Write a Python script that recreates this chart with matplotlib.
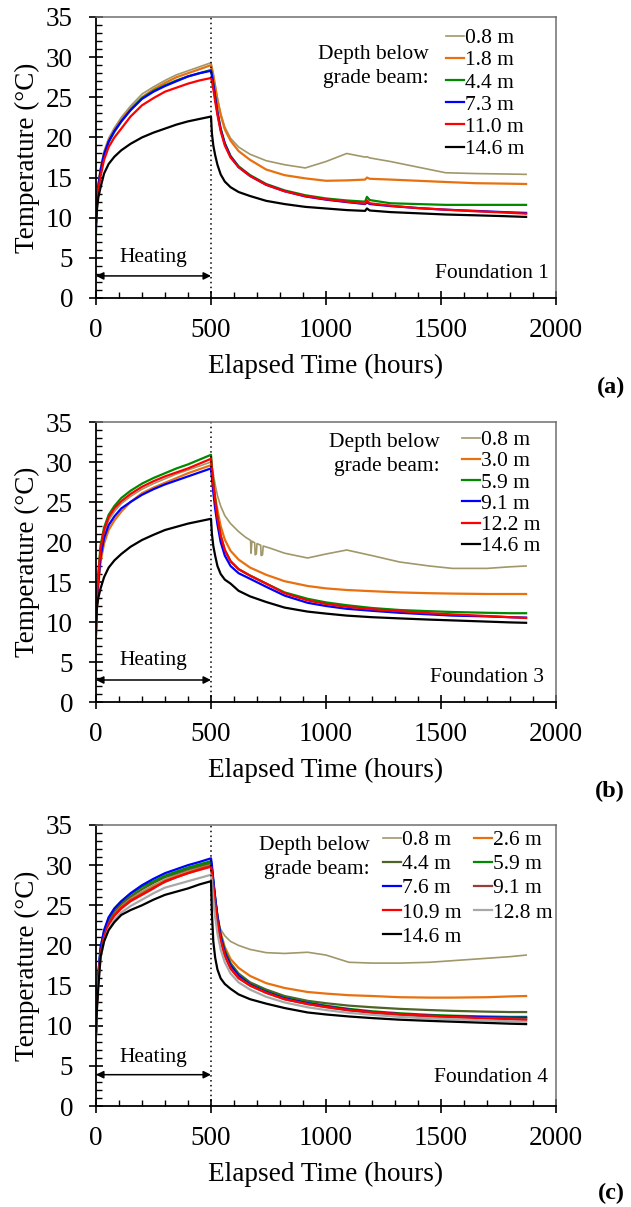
import matplotlib
matplotlib.use("Agg")
import matplotlib.pyplot as plt
from matplotlib.ticker import MultipleLocator

plt.rcParams["font.family"] = ["Liberation Serif", "DejaVu Serif"]

# ---------------------------------------------------------------- data
# Foundation 1
hours_a = [0, 4, 10, 20, 35, 55, 80, 110, 150, 200, 250, 300, 350, 400, 450, 500,
           504, 510, 518, 528, 542, 560, 585, 620, 670, 740, 820, 910, 1000, 1090,
           1170, 1178, 1190, 1280, 1400, 1520, 1650, 1770, 1870]
a_08 = [9.8, 12.5, 14.3, 16.3, 18.3, 19.9, 21.2, 22.5, 23.9, 25.4, 26.3, 27.1, 27.8, 28.3, 28.8, 29.3,
        28.8, 28.0, 26.6, 24.9, 23.0, 21.3, 19.9, 18.8, 17.9, 17.1, 16.6, 16.2, 17.0, 18.0,
        17.55, 17.6, 17.45, 17.0, 16.3, 15.6, 15.5, 15.45, 15.4]
a_18 = [9.5, 12.2, 14.0, 16.0, 18.0, 19.6, 20.9, 22.2, 23.6, 25.0, 26.0, 26.8, 27.5, 28.0, 28.5, 29.0,
        28.4, 27.6, 26.3, 24.7, 22.8, 21.0, 19.6, 18.3, 17.2, 16.0, 15.3, 14.9, 14.6, 14.65,
        14.75, 15.0, 14.85, 14.75, 14.6, 14.45, 14.3, 14.25, 14.2]
a_44 = [8.0, 11.5, 13.7, 15.8, 17.8, 19.4, 20.7, 22.0, 23.4, 24.9, 25.8, 26.5, 27.1, 27.6, 28.0, 28.4,
        27.8, 26.7, 25.1, 23.2, 21.1, 19.3, 17.7, 16.4, 15.3, 14.2, 13.4, 12.8, 12.4, 12.15,
        12.0, 12.6, 12.2, 11.8, 11.7, 11.6, 11.6, 11.6, 11.6]
a_73 = [9.0, 12.0, 13.9, 15.9, 17.9, 19.5, 20.8, 22.0, 23.4, 24.8, 25.7, 26.4, 27.0, 27.6, 28.0, 28.3,
        27.7, 26.6, 25.0, 23.1, 21.0, 19.2, 17.6, 16.3, 15.2, 14.1, 13.3, 12.65, 12.25, 11.95,
        11.7, 11.9, 11.7, 11.45, 11.2, 11.0, 10.85, 10.7, 10.6]
a_110 = [9.3, 11.8, 13.5, 15.2, 17.2, 18.8, 20.0, 21.1, 22.6, 24.0, 24.9, 25.7, 26.2, 26.7, 27.1, 27.4,
         27.0, 26.0, 24.5, 22.8, 20.8, 19.0, 17.5, 16.3, 15.2, 14.1, 13.3, 12.7, 12.3, 12.0,
         11.75, 12.15, 11.8, 11.5, 11.2, 11.0, 10.8, 10.65, 10.5]
a_146 = [9.5, 11.0, 12.5, 13.8, 15.5, 16.7, 17.6, 18.4, 19.2, 20.0, 20.6, 21.1, 21.6, 22.0, 22.3, 22.6,
         20.5, 19.0, 17.8, 16.6, 15.4, 14.5, 13.8, 13.2, 12.7, 12.1, 11.7, 11.35, 11.15, 10.95,
         10.85, 11.15, 10.9, 10.7, 10.55, 10.4, 10.3, 10.2, 10.1]

# Foundation 3
hours_b = [0, 4, 10, 20, 35, 55, 80, 110, 150, 200, 250, 300, 350, 400, 450, 500,
           504, 510, 518, 528, 542, 560, 585, 620, 670, 740, 820, 920, 1000, 1090,
           1200, 1320, 1450, 1550, 1700, 1800, 1870]
hours_b_08 = [0, 4, 10, 20, 35, 55, 80, 110, 150, 200, 250, 300, 350, 400, 450, 500,
              504, 510, 518, 528, 542, 560, 585, 620, 650, 672, 674, 678, 690, 692, 697, 700,
              716, 718, 724, 727, 760, 820, 920, 1000, 1090, 1200, 1320, 1450, 1550, 1700,
              1800, 1870]
b_08 = [9.5, 12.6, 15.5, 18.8, 21.1, 22.7, 23.8, 24.8, 25.7, 26.6, 27.3, 27.9, 28.5, 29.0, 29.5, 30.0,
        29.5, 28.5, 27.2, 25.8, 24.5, 23.3, 22.3, 21.3, 20.6, 20.2, 18.6, 20.1, 19.9, 18.4, 18.5, 19.8,
        19.6, 18.3, 18.4, 19.5, 19.2, 18.6, 18.0, 18.5, 19.0, 18.3, 17.5, 17.0, 16.7, 16.7,
        16.9, 17.0]
b_30 = [8.0, 11.5, 14.5, 17.5, 19.8, 21.5, 22.7, 23.8, 25.0, 26.1, 26.8, 27.4, 28.0, 28.6, 29.1, 29.6,
        28.8, 27.4, 25.7, 24.0, 22.0, 20.3, 18.9, 17.8, 16.8, 15.9, 15.1, 14.5, 14.2, 14.0,
        13.85, 13.7, 13.6, 13.55, 13.5, 13.5, 13.5]
b_59 = [8.5, 13.0, 16.0, 19.6, 21.8, 23.4, 24.5, 25.5, 26.4, 27.3, 28.0, 28.6, 29.2, 29.7, 30.3, 30.9,
        29.4, 27.5, 25.4, 23.1, 20.8, 19.0, 17.6, 16.6, 15.8, 14.8, 13.7, 12.9, 12.45, 12.1,
        11.75, 11.5, 11.35, 11.25, 11.15, 11.1, 11.1]
b_91 = [8.8, 12.2, 15.0, 18.2, 20.5, 22.1, 23.2, 24.2, 25.0, 25.9, 26.6, 27.2, 27.7, 28.2, 28.7, 29.2,
        28.0, 26.2, 24.2, 22.2, 20.0, 18.3, 17.0, 16.1, 15.4, 14.4, 13.3, 12.4, 12.0, 11.65,
        11.4, 11.15, 10.95, 10.8, 10.7, 10.6, 10.55]
b_122 = [9.0, 12.8, 15.8, 19.2, 21.5, 23.1, 24.2, 25.1, 26.0, 26.9, 27.6, 28.2, 28.7, 29.2, 29.8, 30.4,
         29.0, 27.2, 25.2, 23.0, 20.8, 19.0, 17.6, 16.6, 15.8, 14.8, 13.6, 12.7, 12.25, 11.9,
         11.6, 11.35, 11.1, 10.95, 10.75, 10.6, 10.5]
b_146 = [10.0, 11.8, 13.0, 14.2, 15.6, 16.8, 17.7, 18.5, 19.4, 20.25, 20.9, 21.5, 21.9, 22.3, 22.6, 22.9,
         21.0, 19.5, 18.3, 17.0, 16.0, 15.3, 14.8, 13.9, 13.2, 12.5, 11.8, 11.3, 11.05, 10.8,
         10.6, 10.45, 10.3, 10.2, 10.05, 9.95, 9.9]

# Foundation 4
hours_c = [0, 4, 10, 20, 35, 55, 80, 110, 150, 200, 250, 300, 350, 400, 450, 500,
           504, 510, 518, 528, 542, 560, 585, 620, 670, 740, 820, 920, 1000, 1100,
           1200, 1320, 1450, 1550, 1700, 1800, 1870]
c_08 = [9.5, 13.0, 16.0, 19.2, 21.3, 23.0, 24.1, 25.0, 25.9, 26.7, 27.5, 28.2, 28.8, 29.3, 29.8, 30.2,
        28.0, 25.5, 23.6, 22.8, 22.0, 21.2, 20.5, 20.0, 19.5, 19.1, 19.0, 19.15, 18.8, 17.9,
        17.8, 17.8, 17.9, 18.1, 18.4, 18.6, 18.8]
c_26 = [9.0, 12.7, 15.7, 19.0, 21.1, 22.8, 23.9, 24.8, 25.7, 26.5, 27.3, 28.0, 28.6, 29.1, 29.6, 30.1,
        29.2, 27.8, 25.8, 23.7, 21.6, 19.8, 18.3, 17.2, 16.2, 15.3, 14.7, 14.2, 14.0, 13.8,
        13.7, 13.55, 13.5, 13.5, 13.55, 13.65, 13.7]
c_44 = [8.8, 13.0, 16.0, 19.3, 21.4, 23.1, 24.3, 25.2, 26.1, 27.0, 27.8, 28.5, 29.0, 29.5, 29.9, 30.3,
        29.4, 27.8, 25.8, 23.6, 21.3, 19.4, 17.8, 16.5, 15.4, 14.5, 13.7, 13.1, 12.8, 12.5,
        12.3, 12.1, 11.95, 11.85, 11.75, 11.7, 11.7]
c_59 = [9.0, 13.3, 16.3, 19.6, 21.7, 23.4, 24.6, 25.5, 26.4, 27.3, 28.0, 28.7, 29.2, 29.7, 30.1, 30.5,
        29.6, 28.0, 25.9, 23.6, 21.2, 19.3, 17.6, 16.3, 15.2, 14.3, 13.5, 12.9, 12.5, 12.1,
        11.8, 11.55, 11.35, 11.25, 11.15, 11.1, 11.1]
c_76 = [9.0, 13.5, 16.5, 19.8, 21.9, 23.5, 24.6, 25.5, 26.5, 27.5, 28.3, 29.0, 29.5, 30.0, 30.4, 30.85,
        30.0, 28.2, 26.0, 23.6, 21.1, 19.1, 17.5, 16.2, 15.1, 14.2, 13.4, 12.8, 12.4, 12.0,
        11.7, 11.45, 11.25, 11.15, 11.05, 11.0, 11.0]
c_91 = [9.0, 12.8, 15.8, 19.0, 21.1, 22.7, 23.8, 24.7, 25.6, 26.4, 27.2, 27.9, 28.5, 29.0, 29.5, 29.9,
        29.0, 27.3, 25.2, 23.0, 20.7, 18.8, 17.2, 16.0, 15.0, 14.1, 13.3, 12.7, 12.3, 11.9,
        11.6, 11.35, 11.15, 11.05, 10.95, 10.9, 10.85]
c_109 = [9.0, 12.7, 15.7, 18.9, 21.0, 22.6, 23.7, 24.6, 25.5, 26.3, 27.1, 28.0, 28.5, 29.0, 29.4, 29.8,
         29.0, 27.2, 25.1, 22.9, 20.6, 18.7, 17.1, 15.9, 15.0, 14.1, 13.3, 12.7, 12.35, 11.95,
         11.7, 11.45, 11.25, 11.1, 10.9, 10.8, 10.7]
c_128 = [8.5, 12.3, 15.2, 18.4, 20.5, 22.1, 23.2, 24.1, 24.9, 25.7, 26.5, 27.2, 27.6, 28.0, 28.4, 28.8,
         27.8, 25.8, 23.6, 21.5, 19.5, 17.9, 16.5, 15.4, 14.5, 13.6, 12.9, 12.3, 11.95, 11.6,
         11.35, 11.1, 10.9, 10.8, 10.65, 10.55, 10.5]
c_146 = [9.3, 12.0, 14.8, 18.6, 20.5, 21.9, 22.9, 23.8, 24.4, 25.0, 25.7, 26.3, 26.7, 27.1, 27.6, 28.0,
         24.0, 20.5, 18.5, 17.0, 15.9, 15.2, 14.6, 13.9, 13.3, 12.75, 12.2, 11.65, 11.4, 11.15,
         10.95, 10.75, 10.6, 10.5, 10.35, 10.25, 10.2]

HEATING_END = 500

KHAKI, ORANGE, GREEN, OLIVE = "#A0976A", "#E8700F", "#008A00", "#4F6228"
BLUE, BROWN, RED, GRAY, BLACK = "#0000FF", "#983C3C", "#FF0000", "#A8A8A8", "#000000"

panels = [
    dict(name="Foundation 1", tag="(a)",
         series=[(hours_a, a_08, "0.8 m", KHAKI), (hours_a, a_18, "1.8 m", ORANGE),
                 (hours_a, a_44, "4.4 m", GREEN), (hours_a, a_73, "7.3 m", BLUE),
                 (hours_a, a_110, "11.0 m", RED), (hours_a, a_146, "14.6 m", BLACK)]),
    dict(name="Foundation 3", tag="(b)",
         series=[(hours_b_08, b_08, "0.8 m", KHAKI), (hours_b, b_30, "3.0 m", ORANGE),
                 (hours_b, b_59, "5.9 m", GREEN), (hours_b, b_91, "9.1 m", BLUE),
                 (hours_b, b_122, "12.2 m", RED), (hours_b, b_146, "14.6 m", BLACK)]),
    dict(name="Foundation 4", tag="(c)",
         series=[(hours_c, c_08, "0.8 m", KHAKI), (hours_c, c_26, "2.6 m", ORANGE),
                 (hours_c, c_44, "4.4 m", OLIVE), (hours_c, c_59, "5.9 m", GREEN),
                 (hours_c, c_76, "7.6 m", BLUE), (hours_c, c_91, "9.1 m", BROWN),
                 (hours_c, c_109, "10.9 m", RED), (hours_c, c_128, "12.8 m", GRAY),
                 (hours_c, c_146, "14.6 m", BLACK)]),
]

# ---------------------------------------------------------------- layout (pixels)
W, H = 631, 1207
fig = plt.figure(figsize=(W / 100, H / 100), dpi=100)

AX_LEFT, AX_RIGHT = 96, 556
ax_boxes = [(17, 298), (422, 702), (825, 1106)]          # top, bottom
tag_y = [387, 791, 1193]
arrow_y = [2.75, 2.75, 3.9]
heat_text_y = [5.1, 5.2, 6.1]
found_xy = [(1970, 3.0), (1950, 3.0), (1965, 3.6)]
depth_text = [(429, 66.5), (440, 454.5), (370, 857.5)]    # right edge, centre
legend_anchor = [(446, 28), (462, 430), (383, 830)]
legend_spacing = [0.10, 0.056, 0.19]


def fx(px):
    return px / W


def fy(py):
    return 1 - py / H


for i, p in enumerate(panels):
    top, bot = ax_boxes[i]
    ax = fig.add_axes([fx(AX_LEFT), fy(bot), (AX_RIGHT - AX_LEFT) / W, (bot - top) / H])

    handles = []
    for t, temp, lab, col in p["series"]:
        lw = 1.2 if col == KHAKI else 1.6
        (ln,) = ax.plot(t, temp, color=col, lw=lw, label=lab, solid_joinstyle="round")
        handles.append(ln)

    ax.set_xlim(0, 2000)
    ax.set_ylim(0, 35)
    ax.axvline(HEATING_END, color="black", lw=1.1, ls=(0, (1, 2.2)))

    ax.annotate("", xy=(0, arrow_y[i]), xytext=(HEATING_END, arrow_y[i]),
                arrowprops=dict(arrowstyle="<|-|>", color="black", lw=1.1,
                                mutation_scale=11, shrinkA=0, shrinkB=0))
    ax.text(HEATING_END / 2, heat_text_y[i], "Heating", ha="center", va="center",
            fontsize=15.5)
    ax.text(found_xy[i][0], found_xy[i][1], p["name"], ha="right", va="center",
            fontsize=15.5)

    # axes frame and ticks
    for s in ("left", "bottom"):
        ax.spines[s].set_color("black")
        ax.spines[s].set_linewidth(1.3)
    for s in ("top", "right"):
        ax.spines[s].set_color("#6f6f6f")
        ax.spines[s].set_linewidth(1.1)
    ax.xaxis.set_major_locator(MultipleLocator(500))
    ax.xaxis.set_minor_locator(MultipleLocator(100))
    ax.yaxis.set_major_locator(MultipleLocator(5))
    ax.yaxis.set_minor_locator(MultipleLocator(1))
    ax.tick_params(which="major", direction="inout", length=10, width=1.2,
                   labelsize=19.5, color="black")
    ax.tick_params(which="minor", direction="in", length=4, width=1.0, color="black")
    ax.tick_params(axis="x", which="major", pad=9.5)
    ax.tick_params(axis="y", which="major", pad=11.5)

    ax.set_ylabel("Temperature (°C)", fontsize=19.5)
    ax.yaxis.set_label_coords(-0.122, 0.5)
    ax.set_xlabel("Elapsed Time (hours)", fontsize=19.6)
    ax.xaxis.set_label_coords(0.5, -0.198)

    # legend
    if len(handles) > 6:
        order = [0, 2, 4, 6, 8, 1, 3, 5, 7]
        leg_handles = [handles[k] for k in order]
        ncol = 2
    else:
        leg_handles = handles
        ncol = 1
    ax.legend(handles=leg_handles, loc="upper left", ncol=ncol,
              bbox_to_anchor=(fx(legend_anchor[i][0]), fy(legend_anchor[i][1])),
              bbox_transform=fig.transFigure, frameon=False, fontsize=15.5,
              borderpad=0, borderaxespad=0, handlelength=0.85, handletextpad=0.05,
              labelspacing=legend_spacing[i], columnspacing=0.55)
    fig.text(fx(depth_text[i][0]), fy(depth_text[i][1]), "Depth below\ngrade beam:",
             ha="right", va="center", fontsize=15.5, linespacing=1.4)

    fig.text(fx(625), fy(tag_y[i]), p["tag"], ha="right", va="center",
             fontsize=17.5, fontweight="bold")

fig.savefig("out.png", dpi=100)
